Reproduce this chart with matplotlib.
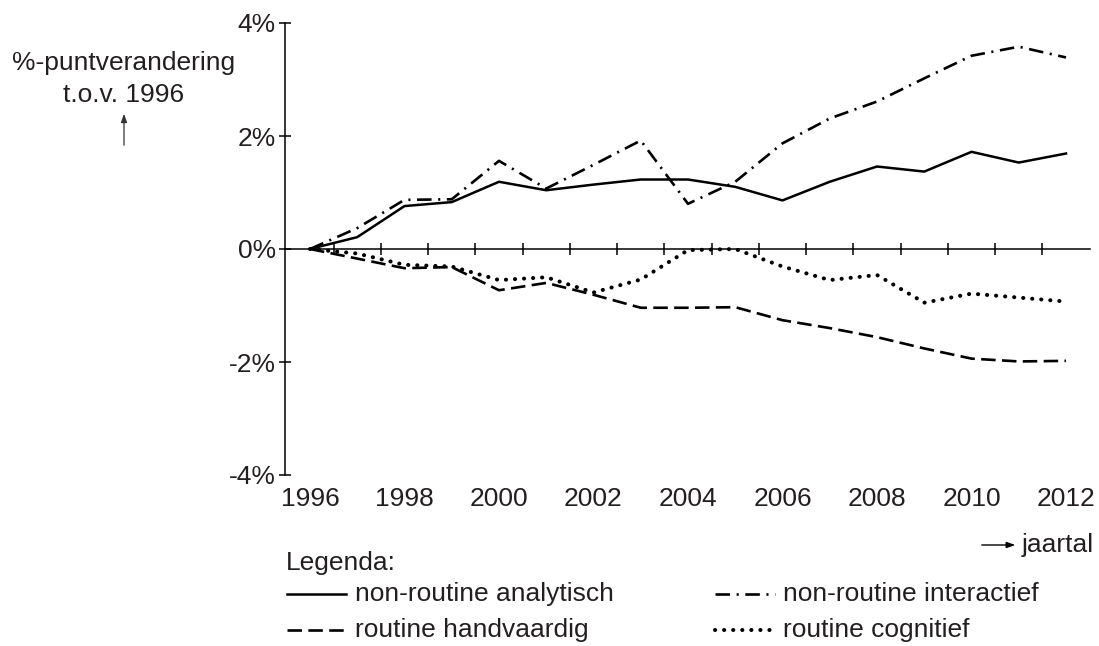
import matplotlib

matplotlib.use("Agg")
import matplotlib.pyplot as plt
from matplotlib.lines import Line2D
from matplotlib.transforms import blended_transform_factory

# data (%-point change vs 1996)
years = list(range(1996, 2013))
analytisch = [0, 0.21, 0.76, 0.83, 1.19, 1.04, 1.14, 1.23, 1.23, 1.10, 0.86,
              1.19, 1.46, 1.37, 1.72, 1.53, 1.69]
interactief = [0, 0.37, 0.87, 0.88, 1.56, 1.07, 1.49, 1.92, 0.80, 1.19, 1.87,
               2.31, 2.61, 3.02, 3.42, 3.58, 3.39]
handvaardig = [0, -0.17, -0.34, -0.32, -0.73, -0.60, -0.81, -1.04, -1.04, -1.03,
               -1.26, -1.40, -1.56, -1.76, -1.94, -1.99, -1.98]
cognitief = [0, -0.08, -0.28, -0.31, -0.55, -0.50, -0.77, -0.54, -0.02, 0.0,
             -0.31, -0.55, -0.46, -0.95, -0.79, -0.86, -0.93]

year_labels = list(range(1996, 2013, 2))
y_ticks = [-4, -2, 0, 2, 4]
y_labels = ["-4%", "-2%", "0%", "2%", "4%"]

plt.rcParams["font.family"] = ["Liberation Sans", "DejaVu Sans"]
TXT = "#231f20"
FS = 19

W, H = 1099, 646


def fx(px):
    return px / W


def fy(py):
    return 1 - py / H


fig = plt.figure(figsize=(W / 100, H / 100), dpi=100)
ax = fig.add_axes([fx(285), fy(475), fx(1090) - fx(285), fy(23) - fy(475)])

x_left = 1996 - 25 / 47.25
x_right = 2012 + 24 / 47.25
ax.set_xlim(x_left, x_right)
ax.set_ylim(-4, 4)

styles = {
    "solid": dict(linestyle="-", linewidth=1.8),
    "dashdot": dict(linestyle=(0, (5.5, 2.5, 0.8, 2.5)), linewidth=1.9),
    "dashed": dict(linestyle=(0, (5.5, 2.4)), linewidth=1.9),
    "dotted": dict(linestyle=(0, (0.05, 2.2)), linewidth=2.9,
                   dash_capstyle="round"),
}

ax.plot(years, analytisch, color="black", **styles["solid"])
ax.plot(years, interactief, color="black", **styles["dashdot"])
ax.plot(years, handvaardig, color="black", **styles["dashed"])
ax.plot(years, cognitief, color="black", **styles["dotted"])

for s in ["top", "right"]:
    ax.spines[s].set_visible(False)
ax.spines["bottom"].set_position(("data", 0))
ax.spines["left"].set_linewidth(1.1)
ax.spines["bottom"].set_linewidth(1.1)

ax.set_yticks(y_ticks)
ax.set_yticklabels(y_labels, fontsize=FS, color=TXT)
ax.tick_params(axis="y", direction="inout", length=9, width=1.1, pad=2)

ax.set_xticks([y + 0.5 for y in years[:-1]])
ax.set_xticklabels([])
ax.tick_params(axis="x", direction="inout", length=9, width=1.1)

trans = blended_transform_factory(ax.transData, ax.transAxes)
for yr in year_labels:
    ax.text(yr, -0.053, str(yr), transform=trans, ha="center", va="center",
            fontsize=FS, color=TXT)

# y axis label
fig.text(fx(124), fy(63), "%-puntverandering", ha="center", va="center",
         fontsize=FS, color=TXT)
fig.text(fx(124), fy(95), "t.o.v. 1996", ha="center", va="center",
         fontsize=FS, color=TXT)
fig.add_artist(plt.Annotation(
    "", xy=(fx(124), fy(111)), xytext=(fx(124), fy(148)),
    xycoords="figure fraction", textcoords="figure fraction",
    arrowprops=dict(arrowstyle="-|>,head_length=0.5,head_width=0.18",
                    color="#333333", lw=0.9)))

# x axis label
fig.add_artist(plt.Annotation(
    "", xy=(fx(1018), fy(545)), xytext=(fx(979), fy(545)),
    xycoords="figure fraction", textcoords="figure fraction",
    arrowprops=dict(arrowstyle="-|>,head_length=0.5,head_width=0.18",
                    color="black", lw=1.0)))
fig.text(fx(1022), fy(545), "jaartal", ha="left", va="center",
         fontsize=FS, color=TXT)

# legend
fig.text(fx(286), fy(563), "Legenda:", ha="left", va="center",
         fontsize=FS, color=TXT)
legend_items = [
    ("solid", "non-routine analytisch", 287, 346, 355, 594),
    ("dashdot", "non-routine interactief", 715, 775, 783, 594),
    ("dashed", "routine handvaardig", 287, 346, 355, 630),
    ("dotted", "routine cognitief", 715, 775, 783, 630),
]
for key, label, x0, x1, xt, yy in legend_items:
    fig.add_artist(Line2D([fx(x0), fx(x1)], [fy(yy), fy(yy)],
                          transform=fig.transFigure, color="black",
                          **styles[key]))
    fig.text(fx(xt), fy(yy), label, ha="left", va="center",
             fontsize=FS, color=TXT)

fig.savefig("out.png", dpi=100)
